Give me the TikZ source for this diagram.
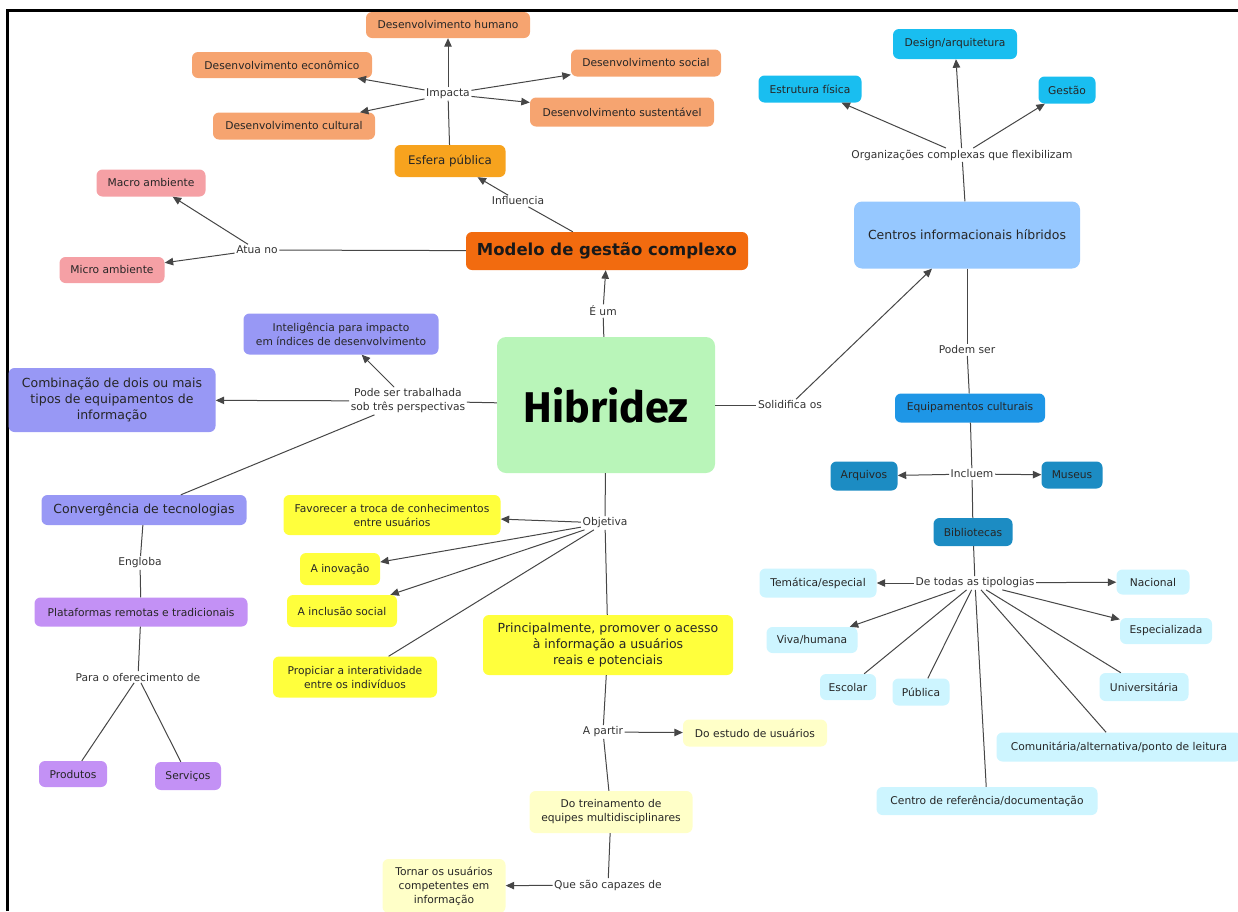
\documentclass[tikz,border=0pt]{standalone}
\usepackage{fontspec}
\setmainfont{DejaVu Sans}
\newfontfamily\hibfont{Fira Sans}
\usetikzlibrary{arrows.meta}
\definecolor{cSalmon}{RGB}{246,164,112}
\definecolor{cEsfera}{RGB}{247,163,30}
\definecolor{cModelo}{RGB}{242,107,15}
\definecolor{cPink}{RGB}{245,160,165}
\definecolor{cPurple}{RGB}{152,152,245}
\definecolor{cLilac}{RGB}{195,145,245}
\definecolor{cYellow}{RGB}{255,255,60}
\definecolor{cLtYellow}{RGB}{255,255,200}
\definecolor{cGreen}{RGB}{185,245,185}
\definecolor{cCentros}{RGB}{150,200,255}
\definecolor{cCyan}{RGB}{25,190,240}
\definecolor{cEquip}{RGB}{30,150,230}
\definecolor{cDkBlue}{RGB}{28,140,195}
\definecolor{cLtCyan}{RGB}{205,245,255}
\definecolor{cLine}{RGB}{70,70,70}
\definecolor{cTxt}{RGB}{50,50,50}
\newcommand\fsS{\fontsize{10.7}{14}\selectfont}
\newcommand\fsM{\fontsize{12.5}{16}\selectfont}
\begin{document}
\begin{tikzpicture}[x=1pt,y=-1pt,
  box/.style={rounded corners=6pt, inner sep=2pt, align=center, font=\fsS, text=black!85},
  medbox/.style={box, font=\fsM},
  lbl/.style={font=\fsS, text=cTxt, inner sep=1.5pt, align=center},
  ln/.style={draw=cLine, line width=1pt},
  arr/.style={ln, -{Triangle[length=8.5pt,width=7.5pt]}},
]
\useasboundingbox (0,0) rectangle (1238,911);
\draw[line width=3pt] (7,911) -- (7,10) -- (1238,10);

% ---- top left: modelo de gestao
\node[box, fill=cSalmon, minimum width=164, minimum height=26] (dh) at (448,25) {Desenvolvimento humano};
\node[box, fill=cSalmon, minimum width=180, minimum height=26] (de) at (282,65) {Desenvolvimento econômico};
\node[box, fill=cSalmon, minimum width=150, minimum height=27] (ds) at (646,63) {Desenvolvimento social};
\node[box, fill=cSalmon, minimum width=184, minimum height=29] (dsu) at (622,112) {Desenvolvimento sustentável};
\node[box, fill=cSalmon, minimum width=162, minimum height=27] (dc) at (294,126) {Desenvolvimento cultural};
\node[lbl] (imp) at (448,94) {Impacta};
\node[box, fill=cEsfera, minimum width=111, minimum height=32, font=\fontsize{11.8}{14}\selectfont] (esf) at (450,161) {Esfera pública};
\node[lbl] (infl) at (518,201) {Influencia};
\node[box, fill=cModelo, minimum width=282, minimum height=38, font=\fontsize{16.5}{19}\selectfont\bfseries, text=black!90] (mod) at (607,251) {Modelo de gestão complexo};
\node[box, fill=cPink, minimum width=109, minimum height=27] (macro) at (151,183) {Macro ambiente};
\node[box, fill=cPink, minimum width=105, minimum height=26] (micro) at (112,270) {Micro ambiente};
\node[lbl] (atua) at (257,250) {Atua no};
\node[lbl] (eum) at (603,311) {É um};

% ---- center
\node[box, fill=cGreen, minimum width=218, minimum height=136, rounded corners=9pt, font=\hibfont\bfseries\fontsize{43}{46}\selectfont, text=black] (hib) at (606,405) {Hibridez};

% ---- left: perspectivas
\node[box, fill=cPurple, minimum width=195, minimum height=41] (intel) at (341,334) {Inteligência para impacto\\em índices de desenvolvimento};
\node[medbox, fill=cPurple, minimum width=207, minimum height=64] (comb) at (112,400) {Combinação de dois ou mais\\tipos de equipamentos de\\informação};
\node[lbl] (pode) at (408,401) {Pode ser trabalhada\\sob três perspectivas};
\node[medbox, fill=cPurple, minimum width=205, minimum height=30] (conv) at (144,510) {Convergência de tecnologias};
\node[lbl] (engl) at (140,563) {Engloba};
\node[box, fill=cLilac, minimum width=213, minimum height=29] (plat) at (141,612) {Plataformas remotas e tradicionais};
\node[lbl] (para) at (138,677) {Para o oferecimento de};
\node[box, fill=cLilac, minimum width=68, minimum height=26] (prod) at (73,774) {Produtos};
\node[box, fill=cLilac, minimum width=66, minimum height=28] (serv) at (188,776) {Serviços};

% ---- bottom middle: objetiva
\node[box, fill=cYellow, minimum width=217, minimum height=40] (fav) at (392,515) {Favorecer a troca de conhecimentos\\entre usuários};
\node[box, fill=cYellow, minimum width=80, minimum height=32] (inov) at (340,569) {A inovação};
\node[box, fill=cYellow, minimum width=110, minimum height=32] (incl) at (342,611) {A inclusão social};
\node[box, fill=cYellow, minimum width=164, minimum height=41] (prop) at (355,677) {Propiciar a interatividade\\entre os indivíduos};
\node[lbl] (obj) at (605,523) {Objetiva};
\node[medbox, fill=cYellow, minimum width=250, minimum height=60] (princ) at (608,645) {Principalmente, promover o acesso\\à informação a usuários\\reais e potenciais};
\node[lbl] (apartir) at (603,732) {A partir};
\node[box, fill=cLtYellow, minimum width=144, minimum height=27] (estudo) at (755,733) {Do estudo de usuários};
\node[box, fill=cLtYellow, minimum width=163, minimum height=42] (trein) at (611,812) {Do treinamento de\\equipes multidisciplinares};
\node[lbl] (que) at (608,885) {Que são capazes de};
\node[box, fill=cLtYellow, minimum width=123, minimum height=54] (tornar) at (444,886) {Tornar os usuários\\competentes em\\informação};

% ---- right
\node[lbl] (solid) at (790,405) {Solidifica os};
\node[medbox, fill=cCentros, minimum width=226, minimum height=67, rounded corners=8pt] (centros) at (967,235) {Centros informacionais híbridos};
\node[lbl] (org) at (962,155) {Organizações complexas que flexibilizam};
\node[box, fill=cCyan, minimum width=103, minimum height=27] (estr) at (810,89) {Estrutura física};
\node[box, fill=cCyan, minimum width=124, minimum height=30] (design) at (955,44) {Design/arquitetura};
\node[box, fill=cCyan, minimum width=57, minimum height=27] (gestao) at (1067,90) {Gestão};
\node[lbl] (podem) at (967,350) {Podem ser};
\node[box, fill=cEquip, minimum width=150, minimum height=29] (equip) at (970,408) {Equipamentos culturais};
\node[lbl] (inc) at (972,474) {Incluem};
\node[box, fill=cDkBlue, minimum width=67, minimum height=29] (arq) at (864,476) {Arquivos};
\node[box, fill=cDkBlue, minimum width=61, minimum height=27] (mus) at (1072,475) {Museus};
\node[box, fill=cDkBlue, minimum width=79, minimum height=28] (bib) at (973,532) {Bibliotecas};
\node[lbl] (dtt) at (975,583) {De todas as tipologias};
\node[box, fill=cLtCyan, minimum width=117, minimum height=29] (tem) at (818,583) {Temática/especial};
\node[box, fill=cLtCyan, minimum width=73, minimum height=25] (nac) at (1153,582) {Nacional};
\node[box, fill=cLtCyan, minimum width=91, minimum height=26] (viva) at (812,640) {Viva/humana};
\node[box, fill=cLtCyan, minimum width=92, minimum height=26] (esp) at (1166,631) {Especializada};
\node[box, fill=cLtCyan, minimum width=56, minimum height=26] (esc) at (848,687) {Escolar};
\node[box, fill=cLtCyan, minimum width=57, minimum height=27] (pub) at (921,692) {Pública};
\node[box, fill=cLtCyan, minimum width=89, minimum height=28] (univ) at (1144,687) {Universitária};
\node[box, fill=cLtCyan, minimum width=245, minimum height=29] (com) at (1119,747) {Comunitária/alternativa/ponto de leitura};
\node[box, fill=cLtCyan, minimum width=221, minimum height=28] (cref) at (987,801) {Centro de referência/documentação};

% ---- connectors
\draw[ln] (hib) -- (eum);
\draw[arr] (eum) -- (mod);
\draw[ln] (mod) -- (infl);
\draw[arr] (infl) -- (esf);
\draw[ln] (esf) -- (imp);
\draw[arr] (imp) -- (dh);
\draw[arr] (imp) -- (de);
\draw[arr] (imp) -- (dc);
\draw[arr] (imp) -- (ds);
\draw[arr] (imp) -- (dsu);
\draw[ln] (mod) -- (atua);
\draw[arr] (atua) -- (macro);
\draw[arr] (atua) -- (micro);

\draw[ln] (hib) -- (pode);
\draw[arr] (pode) -- (intel);
\draw[arr] (pode) -- (comb);
\draw[ln] (pode) -- (conv);
\draw[ln] (conv) -- (engl);
\draw[ln] (engl) -- (plat);
\draw[ln] (plat) -- (para);
\draw[ln] (para) -- (prod);
\draw[ln] (para) -- (serv);

\draw[ln] (hib) -- (obj);
\draw[arr] (obj) -- (fav);
\draw[arr] (obj) -- (inov);
\draw[arr] (obj) -- (incl);
\draw[ln] (obj) -- (prop);
\draw[ln] (obj) -- (princ);
\draw[ln] (princ) -- (apartir);
\draw[arr] (apartir) -- (estudo);
\draw[ln] (apartir) -- (trein);
\draw[ln] (trein) -- (que);
\draw[arr] (que) -- (tornar);

\draw[ln] (hib) -- (solid);
\draw[arr] (solid) -- (centros);
\draw[ln] (centros) -- (org);
\draw[arr] (org) -- (estr);
\draw[arr] (org) -- (design);
\draw[arr] (org) -- (gestao);
\draw[ln] (centros) -- (podem);
\draw[ln] (podem) -- (equip);
\draw[ln] (equip) -- (inc);
\draw[arr] (inc) -- (arq);
\draw[arr] (inc) -- (mus);
\draw[ln] (inc) -- (bib);
\draw[ln] (bib) -- (dtt);
\draw[arr] (dtt) -- (tem);
\draw[arr] (dtt) -- (nac);
\draw[arr] (dtt) -- (viva);
\draw[arr] (dtt) -- (esp);
\draw[ln] (dtt) -- (esc);
\draw[ln] (dtt) -- (pub);
\draw[ln] (dtt) -- (univ);
\draw[ln] (dtt) -- (com);
\draw[ln] (dtt) -- (cref);
\end{tikzpicture}
\end{document}
